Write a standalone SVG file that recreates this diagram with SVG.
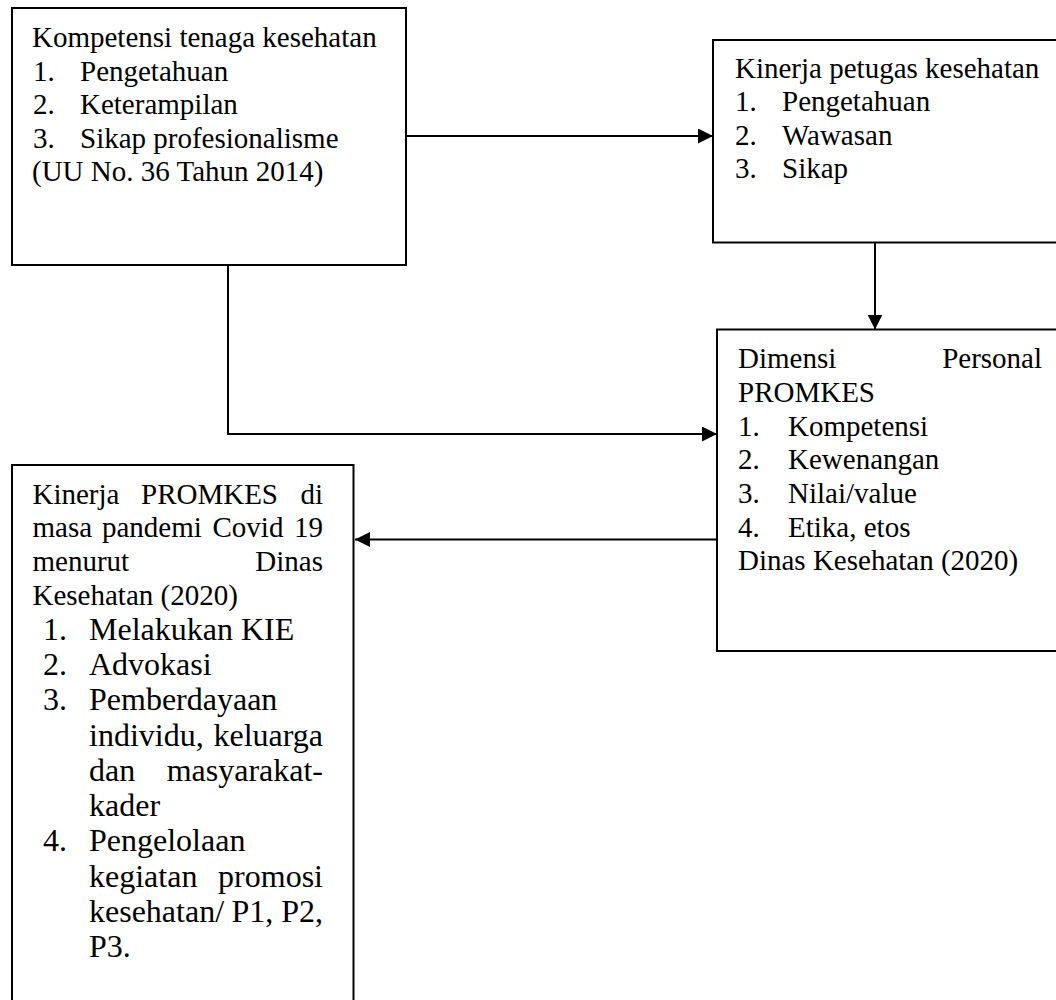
<svg xmlns="http://www.w3.org/2000/svg" width="1056" height="1000" viewBox="0 0 1056 1000">
<style>
.box{fill:#fff;stroke:#000;stroke-width:2}
.t{font-family:"Liberation Serif","Times New Roman",serif;font-size:29px;fill:#000}
.l{font-family:"Liberation Serif","Times New Roman",serif;font-size:32px;fill:#000}
.c{fill:none;stroke:#000;stroke-width:2}
</style>
<defs>
<marker id="ah" markerUnits="userSpaceOnUse" markerWidth="15" markerHeight="15" refX="15" refY="7.5" orient="auto">
<path d="M0,0 L15,7.5 L0,15 Z" fill="#000"/>
</marker>
</defs>
<rect width="1056" height="1000" fill="#fff"/>
<g id="node-kompetensi">
<rect class="box" x="12" y="8" width="394" height="257"/>
<text class="t" x="32" y="47">Kompetensi tenaga kesehatan</text>
<text class="t" y="80.5"><tspan x="33">1.</tspan><tspan x="80">Pengetahuan</tspan></text>
<text class="t" y="114"><tspan x="33">2.</tspan><tspan x="80">Keterampilan</tspan></text>
<text class="t" y="147.5"><tspan x="33">3.</tspan><tspan x="80">Sikap profesionalisme</tspan></text>
<text class="t" x="32" y="181">(UU No. 36 Tahun 2014)</text>
</g>
<g id="node-kinerja-petugas">
<rect class="box" x="713" y="40" width="360" height="202.5"/>
<text class="t" x="735" y="77.5">Kinerja petugas kesehatan</text>
<text class="t" y="111"><tspan x="735">1.</tspan><tspan x="782">Pengetahuan</tspan></text>
<text class="t" y="144.5"><tspan x="735">2.</tspan><tspan x="782">Wawasan</tspan></text>
<text class="t" y="178"><tspan x="735">3.</tspan><tspan x="782">Sikap</tspan></text>
</g>
<g id="node-dimensi">
<rect class="box" x="717" y="329.5" width="360" height="321.5"/>
<text class="t" x="738" y="368">Dimensi</text>
<text class="t" x="1042" y="368" text-anchor="end">Personal</text>
<text class="t" x="738" y="402">PROMKES</text>
<text class="t" y="435.5"><tspan x="738">1.</tspan><tspan x="788">Kompetensi</tspan></text>
<text class="t" y="469"><tspan x="738">2.</tspan><tspan x="788">Kewenangan</tspan></text>
<text class="t" y="503"><tspan x="738">3.</tspan><tspan x="788">Nilai/value</tspan></text>
<text class="t" y="536.5"><tspan x="738">4.</tspan><tspan x="788">Etika, etos</tspan></text>
<text class="t" x="738" y="570">Dinas Kesehatan (2020)</text>
</g>
<g id="node-kinerja-promkes">
<rect class="box" x="12" y="465" width="341.5" height="560"/>
<text class="t" y="503.5"><tspan x="32.5">Kinerja</tspan><tspan x="141">PROMKES</tspan><tspan x="323" text-anchor="end">di</tspan></text>
<text class="t" y="537"><tspan x="32.5">masa</tspan><tspan x="102">pandemi</tspan><tspan x="212.5">Covid</tspan><tspan x="323" text-anchor="end">19</tspan></text>
<text class="t" y="571"><tspan x="32.5">menurut</tspan><tspan x="323" text-anchor="end">Dinas</tspan></text>
<text class="t" x="32.5" y="605">Kesehatan (2020)</text>
<text class="l" y="640"><tspan x="43">1.</tspan><tspan x="89">Melakukan KIE</tspan></text>
<text class="l" y="675"><tspan x="43">2.</tspan><tspan x="89">Advokasi</tspan></text>
<text class="l" y="710"><tspan x="43">3.</tspan><tspan x="89">Pemberdayaan</tspan></text>
<text class="l" y="745.5"><tspan x="89">individu,</tspan><tspan x="323" text-anchor="end">keluarga</tspan></text>
<text class="l" y="781"><tspan x="89">dan</tspan><tspan x="323" text-anchor="end">masyarakat-</tspan></text>
<text class="l" x="89" y="816">kader</text>
<text class="l" y="851"><tspan x="43">4.</tspan><tspan x="89">Pengelolaan</tspan></text>
<text class="l" y="886.5"><tspan x="89">kegiatan</tspan><tspan x="323" text-anchor="end">promosi</tspan></text>
<text class="l" y="922"><tspan x="89">kesehatan/</tspan><tspan x="231.5">P1,</tspan><tspan x="323" text-anchor="end">P2,</tspan></text>
<text class="l" x="89" y="957">P3.</text>
</g>
<g id="connectors">
<line class="c" x1="406" y1="136" x2="713" y2="136" marker-end="url(#ah)"/>
<line class="c" x1="875" y1="242.5" x2="875" y2="329.5" marker-end="url(#ah)"/>
<polyline class="c" points="228,265 228,434 717,434" marker-end="url(#ah)"/>
<line class="c" x1="717" y1="539.5" x2="355" y2="539.5" marker-end="url(#ah)"/>
</g>
</svg>
